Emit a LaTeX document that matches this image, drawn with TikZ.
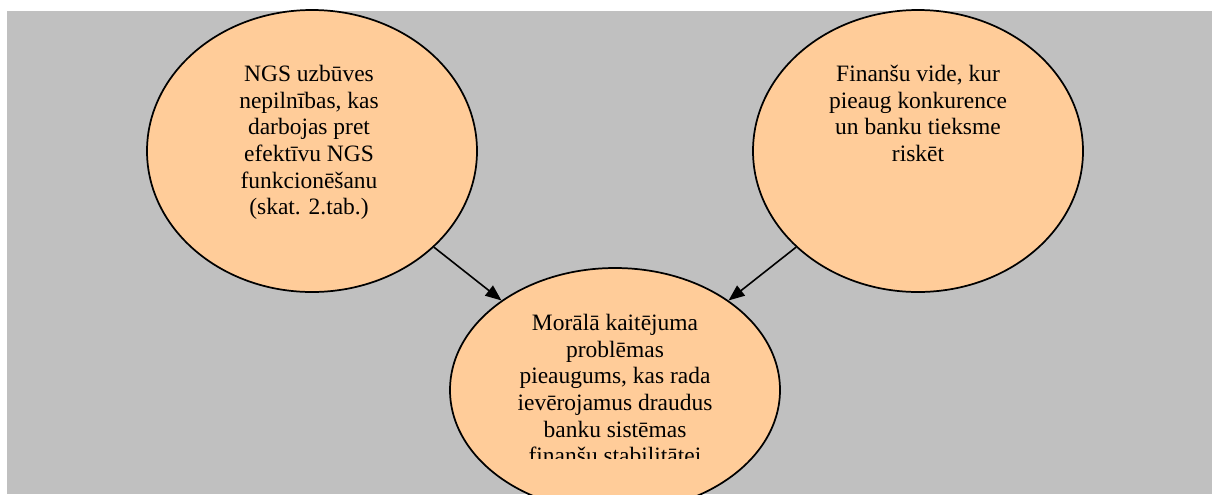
\documentclass[tikz,border=0pt]{standalone}
\usepackage{fontspec}
\setmainfont{Liberation Serif}
\usepackage{tikz}
\usetikzlibrary{arrows.meta, positioning, shapes.geometric}
\definecolor{bggray}{HTML}{C0C0C0}
\definecolor{peach}{HTML}{FFCC99}
\tikzset{
  bubble/.style={draw, ellipse, fill=peach, line width=1.3pt, minimum width=247.5pt, minimum height=211.5pt, inner sep=0pt},
  bubbletext/.style={anchor=north, align=center, inner sep=0pt, font=\fontsize{17.6}{20}\selectfont},
  causes/.style={-{Triangle[length=12pt, width=9.5pt]}, line width=1.2pt},
}

\begin{document}
\begin{tikzpicture}[x=0.75pt, y=-0.75pt]
  \useasboundingbox (0,0) rectangle (1212,494);
  \fill[bggray] (7,11) rectangle (1212,494);

  \node[bubble] (ngs) at (312,151) {};
  \node[bubble] (vide) at (918,151) {};
  \node[bubble, minimum height=183pt] (moral) at (615,390) {};

  \node[bubbletext] (ngstext) at (309,65) {NGS uzbūves\\nepilnības, kas\\darbojas pret\\efektīvu NGS\\funkcionēšanu\\(skat. 2.tab.)};
  \node[bubbletext] (videtext) at (918,65) {Finanšu vide, kur\\pieaug konkurence\\un banku tieksme\\riskēt};
  % last line is cut off by the text box
  \begin{scope}
    \clip (450,300) rectangle (780,458);
    \node[bubbletext] (moraltext) at (615,314) {Morālā kaitējuma\\problēmas\\pieaugums, kas rada\\ievērojamus draudus\\banku sistēmas\\finanšu stabilitātei};
  \end{scope}

  \draw[causes] (ngs) -- (moral);
  \draw[causes] (vide) -- (moral);
\end{tikzpicture}
\end{document}
